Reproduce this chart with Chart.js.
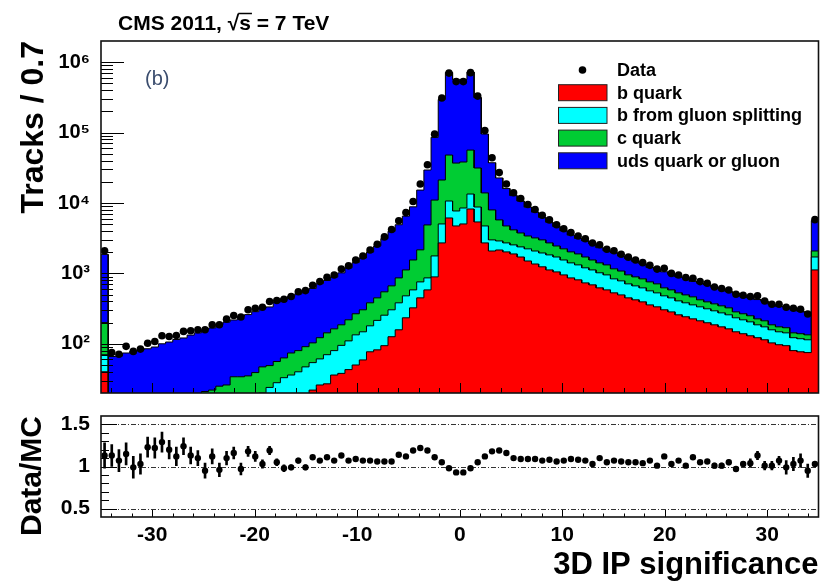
<!DOCTYPE html>
<html>
<head>
<meta charset="utf-8">
<title>3D IP significance</title>
<script src="https://cdn.jsdelivr.net/npm/chart.js@4.4.1/dist/chart.umd.min.js"></script>
<style>
  body { margin: 0; background: #fff; }
  #wrap { position: relative; width: 825px; height: 584px; overflow: hidden; }
  #top { position: absolute; left: 0; top: 0; }
  #bottom { position: absolute; left: 0; top: 400px; }
</style>
</head>
<body>
<div id="wrap">
  <canvas id="top" width="825" height="400"></canvas>
  <canvas id="bottom" width="825" height="184"></canvas>
</div>
<script>
"use strict"

// 100 bins of width 0.7 from -35 to 35
const binLow = -35;
const binWidth = 0.7;

const bQuark = [
    40, 2, 2, 2, 2, 3, 3, 3, 4, 4,
    4, 5, 5, 6, 6, 7, 7, 8, 9, 9,
    10, 11, 12, 13, 14, 15, 16, 17, 19, 22,
    26, 27, 36, 38, 43, 50, 59, 77, 82, 94,
    126, 158, 234, 324, 449, 583, 892, 2710, 6130, 4720,
    5040, 8220, 5380, 2710, 2080, 2150, 2020, 1890, 1710, 1500,
    1360, 1240, 1120, 1050, 952, 863, 809, 733, 687, 623,
    583, 529, 495, 449, 421, 394, 357, 335, 304, 284,
    258, 242, 226, 212, 199, 186, 174, 163, 148, 139,
    130, 122, 114, 103, 97, 94, 80, 77, 75, 1120
];
const bGluonSplitting = [
    30, 1, 1, 1, 2, 1, 1, 2, 1, 2,
    2, 2, 2, 2, 3, 3, 4, 4, 4, 6,
    6, 7, 8, 11, 14, 18, 20, 23, 28, 32,
    35, 43, 44, 57, 67, 84, 89, 103, 133, 161,
    178, 224, 246, 259, 308, 280, 878, 2330, 4540, 2980,
    3450, 5180, 3390, 2010, 910, 740, 690, 650, 670, 730,
    720, 710, 710, 660, 598, 547, 511, 467, 433, 397,
    369, 307, 288, 261, 244, 229, 208, 194, 176, 165,
    149, 140, 131, 123, 115, 108, 101, 95, 86, 80,
    75, 64, 60, 55, 51, 49, 42, 41, 39, 590
];
const cQuark = [
    130, 2, 2, 3, 2, 3, 3, 3, 4, 4,
    5, 5, 6, 7, 12, 12, 14, 14, 21, 19,
    19, 21, 27, 25, 28, 30, 38, 40, 44, 49,
    61, 73, 83, 91, 109, 133, 156, 202, 234, 292,
    361, 481, 640, 967, 1403, 4017, 9230, 16160, 37330, 29200,
    29710, 43000, 22630, 9180, 4980, 2860, 2010, 1610, 1370, 1170,
    1110, 1040, 880, 740, 680, 610, 570, 510, 430, 390,
    368, 324, 297, 243, 227, 213, 192, 181, 143, 134,
    122, 113, 107, 86, 80, 75, 71, 66, 50, 48,
    45, 40, 38, 28, 26, 26, 21, 21, 20, 370
];
const udsGluon = [
    1660, 61, 62, 68, 72, 75, 78, 82, 91, 96,
    104, 109, 120, 128, 137, 146, 163, 178, 184, 211,
    225, 247, 273, 285, 336, 376, 400, 432, 485, 510,
    593, 650, 725, 832, 977, 1155, 1350, 1627, 2004, 2566,
    3297, 4049, 5398, 7274, 13090, 24530, 74590, 274000, 666300, 533000,
    531800, 668100, 282900, 81640, 29320, 16940, 11310, 8580, 6890, 5320,
    4240, 3270, 2610, 2170, 1790, 1470, 1260, 1190, 1070, 908,
    775, 803, 684, 666, 584, 529, 458, 429, 431, 388,
    359, 371, 306, 308, 290, 265, 258, 228, 237, 209,
    202, 199, 189, 175, 167, 164, 168, 151, 145, 3550
];
const dataCounts = [
    2100, 75, 71, 92, 78, 84, 102, 108, 130, 127,
    131, 150, 153, 158, 158, 186, 186, 224, 252, 240,
    305, 320, 330, 398, 412, 430, 470, 548, 570, 680,
    765, 880, 950, 1150, 1280, 1550, 1770, 2150, 2600, 3300,
    4200, 5600, 7300, 10500, 18600, 35000, 95000, 310000, 700000, 530000,
    530000, 710000, 330000, 107000, 44000, 27000, 18600, 14000, 11600, 9500,
    8100, 6700, 5750, 4900, 4300, 3800, 3400, 3100, 2700, 2550,
    2200, 2100, 1870, 1700, 1550, 1420, 1300, 1150, 1180, 1000,
    950, 875, 855, 765, 725, 640, 610, 580, 505, 490,
    470, 480, 405, 365, 365, 330, 320, 310, 265, 5800
];
const ratio = [
    1.13, 1.13, 1.07, 1.15, 0.99, 1.03, 1.23, 1.22, 1.29, 1.20,
    1.12, 1.24, 1.13, 1.10, 0.95, 1.12, 0.96, 1.10, 1.16, 0.97,
    1.18, 1.12, 1.03, 1.19, 1.05, 0.98, 0.99, 1.07, 0.99, 1.11,
    1.07, 1.11, 1.07, 1.13, 1.07, 1.09, 1.07, 1.07, 1.06, 1.06,
    1.06, 1.14, 1.12, 1.19, 1.22, 1.19, 1.11, 1.05, 0.98, 0.93,
    0.93, 0.98, 1.05, 1.12, 1.18, 1.19, 1.16, 1.10, 1.09, 1.09,
    1.09, 1.07, 1.08, 1.06, 1.07, 1.09, 1.08, 1.07, 1.03, 1.10,
    1.05, 1.07, 1.06, 1.05, 1.05, 1.04, 1.07, 1.01, 1.12, 1.03,
    1.07, 1.01, 1.11, 1.05, 1.06, 1.01, 1.01, 1.05, 0.97, 1.03,
    1.04, 1.13, 1.01, 1.01, 1.07, 0.99, 1.03, 1.07, 0.95, 1.03
];
const ratioErr = [
    0.15, 0.13, 0.13, 0.13, 0.13, 0.12, 0.12, 0.12, 0.12, 0.11,
    0.11, 0.10, 0.10, 0.09, 0.09, 0.09, 0.08, 0.08, 0.07, 0.07,
    0.06, 0.06, 0.05, 0.05, 0.04, 0.04, 0.03, 0.03, 0.03, 0.02,
    0.02, 0.01, 0.01, 0.01, 0.01, 0.01, 0.01, 0.01, 0.01, 0.01,
    0.01, 0.01, 0.01, 0.01, 0.01, 0.01, 0.01, 0.01, 0.01, 0.01,
    0.01, 0.01, 0.01, 0.01, 0.01, 0.01, 0.01, 0.01, 0.01, 0.01,
    0.01, 0.01, 0.01, 0.01, 0.01, 0.01, 0.01, 0.01, 0.01, 0.01,
    0.01, 0.01, 0.01, 0.01, 0.01, 0.01, 0.01, 0.01, 0.01, 0.01,
    0.02, 0.02, 0.02, 0.02, 0.02, 0.03, 0.03, 0.03, 0.03, 0.03,
    0.05, 0.05, 0.05, 0.05, 0.05, 0.08, 0.08, 0.08, 0.08, 0.02
];

const xTickValues = [-30, -20, -10, 0, 10, 20, 30];
const yTickValues = [100, 1000, 10000, 100000, 1000000];
const ratioTickValues = [0.5, 1, 1.5];
const legendLabels = ['Data', 'b quark', 'b from gluon splitting', 'c quark', 'uds quark or gluon'];
const stackColors = ['#ff0000', '#00ffff', '#00cc33', '#0000ff'];

Chart.defaults.font.family = '"Liberation Sans", Arial, sans-serif';
Chart.defaults.color = '#000';

const nBins = dataCounts.length;
const center = i => binLow + binWidth * (i + 0.5);

// running sums for the stack, bottom (b quark) to top (uds)
const components = [bQuark, bGluonSplitting, cQuark, udsGluon];
const cumulative = [];
let running = new Array(nBins).fill(0);
components.forEach(c => {
    running = running.map((v, i) => v + c[i]);
    cumulative.push(running);
});

// histogram outline: two points per bin
function stepPoints(values) {
    const pts = [];
    values.forEach((v, i) => {
        pts.push({x: binLow + binWidth * i, y: v});
        pts.push({x: binLow + binWidth * (i + 1), y: v});
    });
    return pts;
}

const sup = {'2': '\u00b2', '3': '\u00b3', '4': '\u2074', '5': '\u2075', '6': '\u2076'};

// keep the plot frame where the layout padding puts it
function fixWidth(w) {
    return s => {
        s.width = w;
        s.paddingTop = 0;
        s.paddingBottom = 0;
    };
}

function xTickMarks(major, minor) {
    const marks = [];
    for (let k = -17; k <= 17; k++) {
        const v = 2 * k;
        marks.push([v, v % 10 === 0 ? major : minor]);
    }
    return marks;
}

function framePlugin(yMarks, xMarks) {
    return {
        id: 'frame',
        afterDatasetsDraw(chart) {
            const {ctx, chartArea: a} = chart;
            const xs = chart.scales.x, ys = chart.scales.y;
            ctx.save();
            ctx.strokeStyle = '#000';
            ctx.lineWidth = 1;
            ctx.beginPath();
            xMarks.forEach(([v, len]) => {
                const px = Math.round(xs.getPixelForValue(v)) + 0.5;
                ctx.moveTo(px, a.bottom);
                ctx.lineTo(px, a.bottom - len);
            });
            yMarks.forEach(([v, len]) => {
                const py = Math.round(ys.getPixelForValue(v)) + 0.5;
                ctx.moveTo(a.left, py);
                ctx.lineTo(a.left + len, py);
            });
            ctx.stroke();
            ctx.lineWidth = 1.6;
            ctx.strokeStyle = '#111';
            ctx.strokeRect(a.left, a.top, a.right - a.left, a.bottom - a.top);
            ctx.restore();
        }
    };
}

// ---- top pad: stacked histogram ----
const topYMarks = [];
yTickValues.concat([10]).forEach(d => {
    if (d >= 20) topYMarks.push([d, 23]);
    for (let m = 2; m <= 9; m++) {
        const v = m * d;
        if (v > 20 && v < 2e6) topYMarks.push([v, 12]);
    }
});

const annotations = {
    id: 'annotations',
    afterDraw(chart) {
        const ctx = chart.ctx;
        ctx.save();
        // header
        ctx.fillStyle = '#000';
        ctx.font = 'bold 21px "Liberation Sans", Arial, sans-serif';
        ctx.textBaseline = 'alphabetic';
        const head = 'CMS 2011, \u221A';
        ctx.fillText(head + 's = 7 TeV', 118, 30);
        const x0 = 118 + ctx.measureText(head).width;
        const sw = ctx.measureText('s').width;
        ctx.lineWidth = 1.5;
        ctx.beginPath();
        ctx.moveTo(x0 - 1, 13.5);
        ctx.lineTo(x0 + sw + 1, 13.5);
        ctx.stroke();
        // panel label
        ctx.fillStyle = '#3b4d6e';
        ctx.font = '20px "Liberation Sans", Arial, sans-serif';
        ctx.fillText('(b)', 145, 85);
        // legend
        ctx.font = 'bold 18px "Liberation Sans", Arial, sans-serif';
        ctx.textBaseline = 'middle';
        legendLabels.forEach((label, i) => {
            const y = 70 + i * 22.7;
            if (i === 0) {
                ctx.fillStyle = '#000';
                ctx.beginPath();
                ctx.arc(582.5, y, 3.8, 0, Math.PI * 2);
                ctx.fill();
            } else {
                ctx.fillStyle = stackColors[i - 1];
                ctx.fillRect(558.5, y - 8, 48.5, 16);
                ctx.strokeStyle = '#222';
                ctx.lineWidth = 1;
                ctx.strokeRect(558.5, y - 8, 48.5, 16);
            }
            ctx.fillStyle = '#000';
            ctx.fillText(label, 617, y + 1);
        });
        ctx.restore();
    }
};

const stackDatasets = cumulative.map((vals, k) => ({
    type: 'line',
    data: stepPoints(vals),
    borderColor: '#000',
    borderWidth: 1,
    backgroundColor: stackColors[k],
    fill: 'start',
    pointRadius: 0,
    tension: 0
}));

const topChart = new Chart(document.getElementById('top'), {
    type: 'line',
    data: {
        datasets: [
            {
                type: 'scatter',
                data: dataCounts.map((v, i) => ({x: center(i), y: v})),
                pointRadius: 3.8,
                backgroundColor: '#000',
                borderWidth: 0
            }
        ].concat(stackDatasets)
    },
    options: {
        responsive: false,
        animation: false,
        layout: {autoPadding: false, padding: {left: 0, top: 41, right: 6.5, bottom: 7}},
        plugins: {legend: {display: false}, tooltip: {enabled: false}},
        scales: {
            x: {type: 'linear', min: -35, max: 35, display: false},
            y: {
                type: 'logarithmic',
                min: 20,
                max: 2e6,
                afterBuildTicks: s => { s.ticks = yTickValues.map(v => ({value: v})); },
                afterFit: fixWidth(101),
                grid: {display: false, drawTicks: false},
                border: {display: false},
                ticks: {
                    autoSkip: false,
                    padding: 11,
                    font: {size: 20, weight: 'bold'},
                    callback: v => '10' + sup[String(Math.round(Math.log10(v)))]
                },
                title: {
                    display: true,
                    text: 'Tracks / 0.7',
                    align: 'end',
                    font: {size: 32, weight: 'bold'},
                    padding: {top: 15, bottom: 0}
                }
            }
        }
    },
    plugins: [framePlugin(topYMarks, xTickMarks(10, 5)), annotations]
});

// ---- bottom pad: Data/MC ----
const ratioYMarks = [];
for (let k = 5; k <= 15; k++) {
    ratioYMarks.push([k / 10, k % 5 === 0 ? 16 : 8]);
}

const refLines = {
    id: 'refLines',
    beforeDatasetsDraw(chart) {
        const {ctx, chartArea: a} = chart;
        const ys = chart.scales.y;
        ctx.save();
        ctx.strokeStyle = '#333';
        ctx.lineWidth = 1;
        ctx.setLineDash([5, 2, 1, 2]);
        ratioTickValues.forEach(v => {
            const py = Math.round(ys.getPixelForValue(v)) + 0.5;
            ctx.beginPath();
            ctx.moveTo(a.left, py);
            ctx.lineTo(a.right, py);
            ctx.stroke();
        });
        ctx.restore();
    }
};

const bottomChart = new Chart(document.getElementById('bottom'), {
    type: 'bar',
    data: {
        datasets: [
            {
                type: 'scatter',
                data: ratio.map((r, i) => ({x: center(i), y: r})),
                pointRadius: 3.2,
                backgroundColor: '#000',
                borderWidth: 0
            },
            {
                type: 'bar',
                data: ratio.map((r, i) => ({x: center(i), y: [r - ratioErr[i], r + ratioErr[i]]})),
                backgroundColor: '#000',
                barThickness: 2
            }
        ]
    },
    options: {
        responsive: false,
        animation: false,
        layout: {autoPadding: false, padding: {left: 0, top: 16, right: 6.5, bottom: 0}},
        plugins: {legend: {display: false}, tooltip: {enabled: false}},
        scales: {
            x: {
                type: 'linear',
                min: -35,
                max: 35,
                offset: false,
                afterBuildTicks: s => { s.ticks = xTickValues.map(v => ({value: v})); },
                afterFit: s => {
                    s.height = 67;
                    s.paddingLeft = 0;
                    s.paddingRight = 0;
                },
                grid: {display: false, drawTicks: false},
                border: {display: false},
                ticks: {autoSkip: false, maxRotation: 0, padding: 6, font: {size: 21, weight: 'bold'}},
                title: {
                    display: true,
                    text: '3D IP significance',
                    align: 'end',
                    font: {size: 31, weight: 'bold'},
                    padding: {top: 0, bottom: 0}
                }
            },
            y: {
                type: 'linear',
                min: 0.4,
                max: 1.6,
                afterBuildTicks: s => { s.ticks = ratioTickValues.map(v => ({value: v})); },
                afterFit: fixWidth(101),
                grid: {display: false, drawTicks: false},
                border: {display: false},
                ticks: {
                    autoSkip: false,
                    padding: 11,
                    font: {size: 21, weight: 'bold'},
                    callback: v => String(v)
                },
                title: {
                    display: true,
                    text: 'Data/MC',
                    align: 'end',
                    font: {size: 30, weight: 'bold'},
                    padding: {top: 15, bottom: 0}
                }
            }
        }
    },
    plugins: [refLines, framePlugin(ratioYMarks, xTickMarks(7, 3.5))]
});
</script>
</body>
</html>
